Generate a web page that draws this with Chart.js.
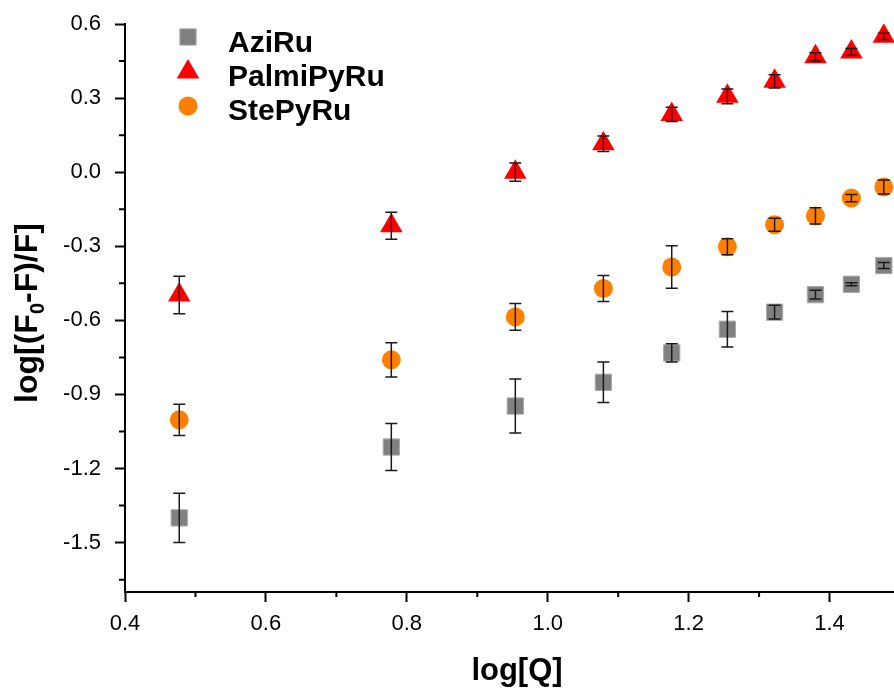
<!DOCTYPE html>
<html>
<head>
<meta charset="utf-8">
<script src="https://cdn.jsdelivr.net/npm/chart.js@4.4.1/dist/chart.umd.min.js"></script>
<style>
  html, body { margin: 0; padding: 0; background: #fff; overflow: hidden; }
  #wrap { width: 900px; height: 690px; }
</style>
</head>
<body>
<div id="wrap"><canvas id="chart" width="900" height="690"></canvas></div>
<script>
// log of quencher concentration
const logQ = [0.477, 0.778, 0.954, 1.079, 1.176, 1.255, 1.322, 1.380, 1.431, 1.477];

const aziRu = [-1.400, -1.113, -0.947, -0.851, -0.732, -0.636, -0.567, -0.496, -0.454, -0.378];
const aziRuErr = [0.100, 0.095, 0.109, 0.082, 0.037, 0.072, 0.028, 0.018, 0.006, 0.012];

const palmiPyRu = [-0.497, -0.217, 0.000, 0.115, 0.234, 0.307, 0.368, 0.467, 0.487, 0.550];
const palmiPyRuErr = [0.076, 0.055, 0.037, 0.031, 0.029, 0.030, 0.027, 0.017, 0.014, 0.013];

const stePyRu = [-1.003, -0.760, -0.586, -0.471, -0.384, -0.302, -0.213, -0.177, -0.105, -0.060];
const stePyRuErr = [0.063, 0.069, 0.054, 0.053, 0.086, 0.032, 0.026, 0.033, 0.015, 0.028];

const xTicks = [0.4, 0.6, 0.8, 1.0, 1.2, 1.4];
const yTicks = [-1.5, -1.2, -0.9, -0.6, -0.3, 0.0, 0.3, 0.6];

const FONT = '"Liberation Sans", Arial, sans-serif';

function points(ys) {
    return ys.map((y, i) => ({ x: logQ[i], y: y }));
}

// vertical error bars with caps, drawn over the markers
const errorBars = {
    id: 'errorBars',
    afterDatasetsDraw(chart) {
        const ctx = chart.ctx;
        const xs = chart.scales.x, ys = chart.scales.y;
        ctx.save();
        ctx.strokeStyle = '#1a1a1a';
        ctx.lineWidth = 1.5;
        chart.data.datasets.forEach(ds => {
            ds.data.forEach((p, i) => {
                const e = ds.errors[i];
                const x = xs.getPixelForValue(p.x);
                const top = ys.getPixelForValue(p.y + e);
                const bot = ys.getPixelForValue(p.y - e);
                ctx.beginPath();
                ctx.moveTo(x, top); ctx.lineTo(x, bot);
                ctx.moveTo(x - 6, top); ctx.lineTo(x + 6, top);
                ctx.moveTo(x - 6, bot); ctx.lineTo(x + 6, bot);
                ctx.stroke();
            });
        });
        ctx.restore();
    }
};

// minor ticks halfway between the major ones
const minorTicks = {
    id: 'minorTicks',
    afterDraw(chart) {
        const ctx = chart.ctx;
        ctx.save();
        ctx.strokeStyle = '#000';
        ctx.lineWidth = 2;
        for (const id of ['x', 'y']) {
            const s = chart.scales[id];
            const vals = s.ticks.map(t => t.value);
            const half = (vals[1] - vals[0]) / 2;
            const minor = new Set();
            vals.forEach(v => {
                [v - half, v + half].forEach(m => {
                    if (m >= s.min - 1e-9 && m <= s.max + 1e-9) minor.add(m.toFixed(3));
                });
            });
            ctx.beginPath();
            minor.forEach(m => {
                const p = s.getPixelForValue(parseFloat(m));
                if (id === 'x') {
                    ctx.moveTo(p, chart.chartArea.bottom);
                    ctx.lineTo(p, chart.chartArea.bottom + 5);
                } else {
                    ctx.moveTo(chart.chartArea.left, p);
                    ctx.lineTo(chart.chartArea.left - 6, p);
                }
            });
            ctx.stroke();
        }
        ctx.restore();
    }
};

// axis titles (y title has a subscript) and the legend
const labels = {
    id: 'labels',
    afterDraw(chart) {
        const ctx = chart.ctx;
        ctx.save();
        ctx.fillStyle = '#000';

        ctx.font = 'bold 31px ' + FONT;
        ctx.textAlign = 'center';
        ctx.textBaseline = 'alphabetic';
        ctx.fillText('log[Q]', 517, 680);

        const big = 'bold 32px ' + FONT;
        const small = 'bold 20px ' + FONT;
        const parts = [['log[(F', big, 0], ['0', small, 7], ['-F)/F]', big, 0]];
        let total = 0;
        parts.forEach(([t, f]) => { ctx.font = f; total += ctx.measureText(t).width; });
        ctx.save();
        ctx.translate(37, 313);
        ctx.rotate(-Math.PI / 2);
        ctx.textAlign = 'left';
        let x = -total / 2;
        parts.forEach(([t, f, dy]) => {
            ctx.font = f;
            ctx.fillText(t, x, dy);
            x += ctx.measureText(t).width;
        });
        ctx.restore();

        const rows = [[37, 52], [72, 86], [106, 119.5]];
        chart.data.datasets.forEach((ds, i) => {
            const [my, ty] = rows[i];
            ctx.fillStyle = ds.backgroundColor;
            ctx.strokeStyle = ds.borderColor;
            Chart.helpers.drawPoint(ctx, {
                pointStyle: ds.pointStyle,
                radius: ds.pointRadius,
                rotation: 0,
                borderWidth: ds.borderWidth
            }, 188, my);
            ctx.fillStyle = '#000';
            ctx.font = 'bold 30px ' + FONT;
            ctx.textAlign = 'left';
            ctx.fillText(ds.label, 228, ty);
        });
        ctx.restore();
    }
};

const axisStyle = {
    border: { display: true, color: '#000', width: 2 },
    grid: { drawOnChartArea: false, drawTicks: true, tickLength: 10, tickWidth: 2, tickColor: '#000' }
};

new Chart(document.getElementById('chart'), {
    type: 'scatter',
    data: {
        datasets: [
            {
                label: 'AziRu', data: points(aziRu), errors: aziRuErr,
                pointStyle: 'rect', pointRadius: 11.5, borderWidth: 1,
                backgroundColor: '#808080', borderColor: '#a9a9a9'
            },
            {
                label: 'PalmiPyRu', data: points(palmiPyRu), errors: palmiPyRuErr,
                pointStyle: 'triangle', pointRadius: 13, borderWidth: 0,
                backgroundColor: '#ff0000', borderColor: '#ff0000'
            },
            {
                label: 'StePyRu', data: points(stePyRu), errors: stePyRuErr,
                pointStyle: 'circle', pointRadius: 9.5, borderWidth: 0,
                backgroundColor: '#ff8000', borderColor: '#ff8000'
            }
        ]
    },
    options: {
        responsive: false,
        animation: false,
        events: [],
        layout: { autoPadding: false, padding: { top: 24, left: 0, right: 0, bottom: 0 } },
        plugins: { legend: { display: false }, tooltip: { enabled: false } },
        scales: {
            x: {
                type: 'linear', min: 0.4, max: 1.5,
                ...axisStyle,
                afterBuildTicks: s => { s.ticks = xTicks.map(v => ({ value: v })); },
                afterFit: s => { s.height = 98; s.paddingLeft = 0; s.paddingRight = 0; },
                ticks: {
                    color: '#000', padding: 9, maxRotation: 0,
                    font: { family: FONT, size: 22 },
                    callback: v => Number(v).toFixed(1)
                }
            },
            y: {
                type: 'linear', min: -1.7, max: 0.6,
                ...axisStyle,
                afterBuildTicks: s => { s.ticks = yTicks.map(v => ({ value: v })); },
                afterFit: s => { s.width = 125; s.paddingTop = 0; s.paddingBottom = 0; },
                ticks: {
                    color: '#000', padding: 14,
                    font: { family: FONT, size: 22 },
                    callback: v => Number(v).toFixed(1)
                }
            }
        }
    },
    plugins: [errorBars, minorTicks, labels]
});
</script>
</body>
</html>
